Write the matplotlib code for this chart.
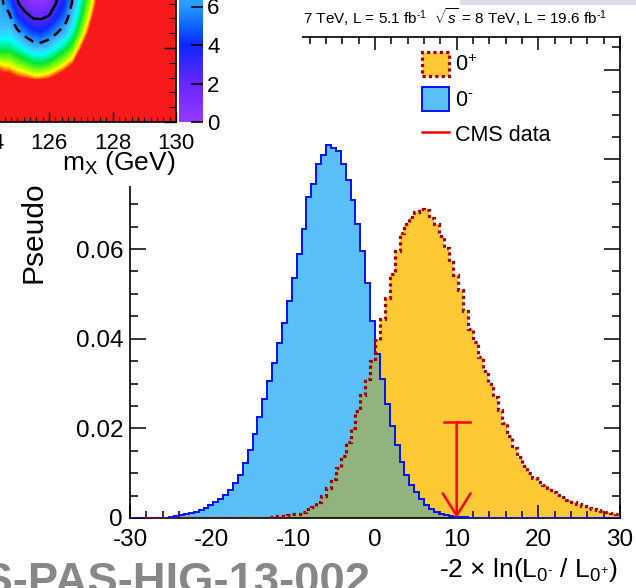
import matplotlib.pyplot as plt
import numpy as np
from matplotlib.cm import ScalarMappable
from matplotlib.colors import LinearSegmentedColormap, Normalize
from matplotlib.lines import Line2D
from matplotlib.patches import Patch, Rectangle
from matplotlib.ticker import FuncFormatter, MultipleLocator

plt.rcParams["font.family"] = ["Liberation Sans", "DejaVu Sans"]
plt.rcParams["mathtext.fontset"] = "custom"
plt.rcParams["mathtext.rm"] = "Liberation Sans"
plt.rcParams["mathtext.it"] = "Liberation Sans:italic"
plt.rcParams["mathtext.bf"] = "Liberation Sans:bold"
plt.rcParams["axes.unicode_minus"] = False

W, H = 636, 588

# ---- main plot: -2 ln(L0-/L0+) pseudo-experiment distributions, 100 bins in [-30, 30]
bin_lo, bin_hi, n_bins = -30.0, 30.0, 100

pseudo_0minus = [
    0, 0, 0, 0, 0, 0, 0, 0.0001, 0.0003, 0.0005,
    0.0007, 0.0009, 0.0011, 0.0014, 0.0018, 0.0023, 0.0028, 0.0035, 0.0042, 0.0051,
    0.0062, 0.0077, 0.0097, 0.0122, 0.0152, 0.0188, 0.0225, 0.0265, 0.0305, 0.0345,
    0.0390, 0.0435, 0.0485, 0.0535, 0.0590, 0.0645, 0.0715, 0.0745, 0.0789, 0.0810,
    0.0831, 0.0825, 0.0818, 0.0790, 0.0755, 0.0710, 0.0655, 0.0595, 0.0525, 0.0440,
    0.0365, 0.0310, 0.0255, 0.0205, 0.0162, 0.0125, 0.0095, 0.0073, 0.0057, 0.0042,
    0.0030, 0.0020, 0.0014, 0.0010, 0.0007, 0.0005, 0.0003, 0.0002, 0.0002, 0.0001,
    0.0001, 0.0001, 0.0001, 0, 0, 0, 0, 0, 0, 0,
    0, 0, 0, 0, 0, 0, 0, 0, 0, 0,
    0, 0, 0, 0, 0, 0, 0, 0, 0, 0,
]

pseudo_0plus = [
    0, 0, 0, 0, 0, 0, 0, 0, 0, 0,
    0, 0, 0, 0, 0, 0, 0, 0, 0, 0,
    0, 0, 0, 0, 0, 0, 0, 0.0001, 0.0002, 0.0003,
    0.0004, 0.0005, 0.0007, 0.0008, 0.0010, 0.0014, 0.0019, 0.0025, 0.0035, 0.0049,
    0.0066, 0.0087, 0.0112, 0.0139, 0.0169, 0.0200, 0.0238, 0.0275, 0.0310, 0.0350,
    0.0398, 0.0445, 0.0490, 0.0545, 0.0595, 0.0635, 0.0655, 0.0672, 0.0683, 0.0690,
    0.0688, 0.0670, 0.0655, 0.0630, 0.0603, 0.0572, 0.0542, 0.0508, 0.0462, 0.0422,
    0.0393, 0.0360, 0.0328, 0.0298, 0.0270, 0.0242, 0.0212, 0.0183, 0.0157, 0.0135,
    0.0115, 0.0101, 0.0090, 0.0081, 0.0074, 0.0066, 0.0058, 0.0051, 0.0046, 0.0041,
    0.0036, 0.0031, 0.0027, 0.0023, 0.0020, 0.0017, 0.0015, 0.0013, 0.0011, 0.0010,
]

cms_data = 10.0
cms_arrow_top = 0.0214

# ---- inset: -2 Delta lnL scan vs m_X (rows = y values, columns = m_X values)
inset_mx = [124.0, 124.25, 124.5, 124.75, 125.0, 125.25, 125.5, 125.75, 126.0,
            126.25, 126.5, 126.75, 127.0, 127.25, 127.5, 127.75, 128.0]
inset_y = [0.2, 0.3, 0.4, 0.5, 0.6, 0.7, 0.8, 0.9, 1.0]
inset_nll = [
    [20, 20, 20, 20, 20, 20, 20, 20, 20, 20, 20, 20, 20, 20, 20, 20, 20],
    [20, 17.5, 16.0, 15.8, 15.0, 14.6, 14.0, 14.0, 14.5, 15.5, 16.5, 18.0, 20, 20, 20, 20, 20],
    [17.0, 14.5, 13.0, 12.8, 11.9, 11.2, 10.3, 10.2, 10.7, 11.8, 13.0, 14.5, 17.5, 20, 20, 20, 20],
    [13.5, 11.0, 9.6, 9.8, 8.9, 8.0, 7.2, 7.0, 7.5, 8.6, 9.8, 11.5, 14.5, 17.5, 20, 20, 20],
    [10.5, 8.8, 7.5, 7.8, 6.6, 5.4, 4.4, 4.2, 4.9, 6.0, 7.0, 9.0, 12.0, 15.0, 18.5, 20, 20],
    [9.0, 7.8, 6.8, 6.5, 4.2, 3.1, 2.3, 2.2, 2.6, 4.0, 5.2, 7.4, 10.2, 13.3, 16.5, 20, 20],
    [8.5, 7.3, 6.3, 5.0, 2.5, 1.3, 0.7, 0.6, 1.0, 2.5, 4.0, 6.3, 9.0, 12.0, 15.0, 18.5, 20],
    [8.3, 7.0, 6.1, 4.6, 2.0, 0.9, 0.3, 0.2, 0.6, 1.9, 3.5, 5.8, 8.5, 11.5, 14.5, 18.0, 20],
    [8.3, 7.0, 6.0, 4.5, 1.9, 0.9, 0.3, 0.2, 0.6, 1.8, 3.4, 5.7, 8.4, 11.4, 14.4, 18.0, 20],
]
contour_68 = 2.3
contour_95 = 5.99


def box(x0, y0, x1, y1):
    # pixel box (top-left origin) -> figure fraction rect
    return [x0 / W, 1 - y1 / H, (x1 - x0) / W, (y1 - y0) / H]


fig = plt.figure(figsize=(W / 100, H / 100), dpi=100)

yellow = "#ffc935"
darkred = "#a00000"
blue_fill = "#58c0f6"
overlap_fill = "#92b27e"

ax = fig.add_axes(box(130, 37, 620, 518))
edges = np.linspace(bin_lo, bin_hi, n_bins + 1)
v_plus = np.array(pseudo_0plus)
v_minus = np.array(pseudo_0minus)

ax.stairs(v_plus, edges, fill=True, color=yellow, zorder=1)
ax.stairs(v_minus, edges, fill=True, color=blue_fill, zorder=2)
ax.stairs(np.minimum(v_plus, v_minus), edges, fill=True, color=overlap_fill, zorder=2.1)
ax.stairs(v_minus, edges, color="#0010ff", lw=1.4, zorder=3)
ax.stairs(v_plus, edges, color=darkred, lw=2.3, linestyle=(0, (1, 1)), zorder=4)

# CMS data arrow
ax.annotate("", xy=(cms_data, 0), xytext=(cms_data, cms_arrow_top),
            arrowprops=dict(arrowstyle="->,head_length=0.8,head_width=0.5",
                            color="red", lw=1.8, shrinkA=0, shrinkB=0,
                            mutation_scale=20), zorder=6)
ax.plot([cms_data - 1.6, cms_data + 1.6], [cms_arrow_top, cms_arrow_top],
        color="red", lw=1.8, zorder=6)

ax.set_xlim(bin_lo, bin_hi)
ax.set_ylim(0, 0.1073)
ax.xaxis.set_major_locator(MultipleLocator(10))
ax.xaxis.set_minor_locator(MultipleLocator(2))
ax.yaxis.set_major_locator(MultipleLocator(0.02))
ax.yaxis.set_minor_locator(MultipleLocator(0.005))
ax.yaxis.set_major_formatter(FuncFormatter(lambda v, p: f"{v:g}"))
ax.tick_params(which="both", direction="in", top=True, right=True, width=1.1,
               labelsize=17.5, colors="black")
ax.tick_params(axis="x", which="major", length=9.5, pad=8)
ax.tick_params(axis="x", which="minor", length=5)
ax.tick_params(axis="y", which="major", length=11.5, pad=5)
ax.tick_params(axis="y", which="minor", length=5.8)
for s in ax.spines.values():
    s.set_linewidth(1.2)

handles = [
    Patch(facecolor=yellow, edgecolor=darkred, linestyle=(0, (1, 1)), linewidth=2.3),
    Patch(facecolor=blue_fill, edgecolor="#0010ff", linewidth=1.4),
    Line2D([], [], color="red", lw=1.8),
]
ax.legend(handles, ["0$^{+}$", r"0$^{\text{-}}$", "CMS data"], loc="upper left",
          bbox_to_anchor=(422 / W, 1 - 52 / H), bbox_transform=fig.transFigure,
          frameon=False, fontsize=15.5, handlelength=1.26, handleheight=1.35,
          handletextpad=0.28, labelspacing=0.5, borderpad=0, borderaxespad=0)

fig.text(303 / W, 1 - 17 / H,
         r"7 TeV, L = 5.1 fb$^{\text{-}1}$  $\sqrt{s}$ = 8 TeV, L = 19.6 fb$^{\text{-}1}$",
         fontsize=11, va="center", ha="left")
fig.text(618 / W, 1 - 570 / H,
         r"-2 $\times$ ln(L$_{0^{\text{-}}}$ / L$_{0^{+}}$)",
         fontsize=19, ha="right", va="center")
fig.text(34 / W, 1 - 283 / H, "Pseudoexperiments", rotation=90, fontsize=21.5,
         ha="center", va="bottom")
fig.text(370 / W, 1 - 594.5 / H, "CMS-PAS-HIG-13-002", fontsize=32.7,
         fontweight="bold", color="#878787", ha="right", va="baseline")

# slide background bits
fig.add_artist(Rectangle((460 / W, 1 - 5 / H), 176 / W, 5 / H, transform=fig.transFigure,
                         facecolor="#dcdee3", edgecolor="none", zorder=1))
fig.add_artist(Rectangle((0, 1 - 186 / H), 302 / W, 186 / H, transform=fig.transFigure,
                         facecolor="white", edgecolor="none", zorder=5))

# ---- inset heat map
stops = [
    (0.0, (0.58, 0.22, 1.0)),
    (0.10, (0.40, 0.15, 1.0)),
    (0.20, (0.05, 0.15, 1.0)),
    (0.25, (0.05, 0.40, 1.0)),
    (0.30, (0.15, 0.60, 1.0)),
    (0.375, (0.25, 0.78, 1.0)),
    (0.425, (0.0, 1.0, 1.0)),
    (0.525, (0.0, 0.90, 0.2)),
    (0.625, (0.6, 1.0, 0.0)),
    (0.675, (1.0, 1.0, 0.0)),
    (0.715, (1.0, 0.55, 0.0)),
    (0.75, (0.97, 0.1, 0.1)),
    (1.0, (0.97, 0.1, 0.1)),
]
cmap = LinearSegmentedColormap.from_list("rainbow_root", stops)
norm = Normalize(vmin=0, vmax=20)

ax_in = fig.add_axes(box(-78, -26, 176, 122))
ax_in.set_zorder(10)
ax_in.set_facecolor((0.97, 0.1, 0.1))
z = np.array(inset_nll)
ax_in.contourf(inset_mx, inset_y, z, levels=np.linspace(0, 20, 101), cmap=cmap,
               norm=norm, antialiased=False)
ax_in.contour(inset_mx, inset_y, z, levels=[contour_68], colors="black", linewidths=1.8)
ax_in.contour(inset_mx, inset_y, z, levels=[contour_95], colors="black",
              linewidths=1.8, linestyles=[(0, (4, 2.5))])
ax_in.set_xlim(122, 130)
ax_in.set_ylim(0, 1.0)
ax_in.xaxis.set_major_locator(MultipleLocator(2))
ax_in.xaxis.set_minor_locator(MultipleLocator(0.2))
ax_in.xaxis.set_major_formatter(FuncFormatter(lambda v, p: f"{v:.0f}"))
ax_in.yaxis.tick_right()
ax_in.yaxis.set_major_locator(MultipleLocator(0.5))
ax_in.yaxis.set_minor_locator(MultipleLocator(0.1))
ax_in.tick_params(axis="x", which="major", direction="in", length=7, width=1,
                  labelsize=16, pad=8, top=False)
ax_in.tick_params(axis="x", which="minor", direction="in", length=3.6, width=0.8, top=False)
ax_in.tick_params(axis="y", which="major", direction="in", length=9, width=1,
                  labelright=False, left=False)
ax_in.tick_params(axis="y", which="minor", direction="in", length=5, width=0.8, left=False)
for s in ax_in.spines.values():
    s.set_linewidth(1.2)

cax = fig.add_axes(box(179, -263, 203, 122))
cax.set_zorder(10)
cb = fig.colorbar(ScalarMappable(norm=norm, cmap=cmap), cax=cax)
cb.outline.set_visible(False)
cb.set_ticks(np.arange(0, 21, 2))
cax.tick_params(direction="in", length=9, width=1.2, colors="black",
                labelsize=16, pad=3)
cax.tick_params(which="minor", length=0)

fig.text(175 / W, 1 - 163 / H, r"m$_{\mathrm{X}}$ (GeV)", fontsize=19, ha="right",
         va="center", zorder=11)

fig.savefig("out.png", dpi=100)
